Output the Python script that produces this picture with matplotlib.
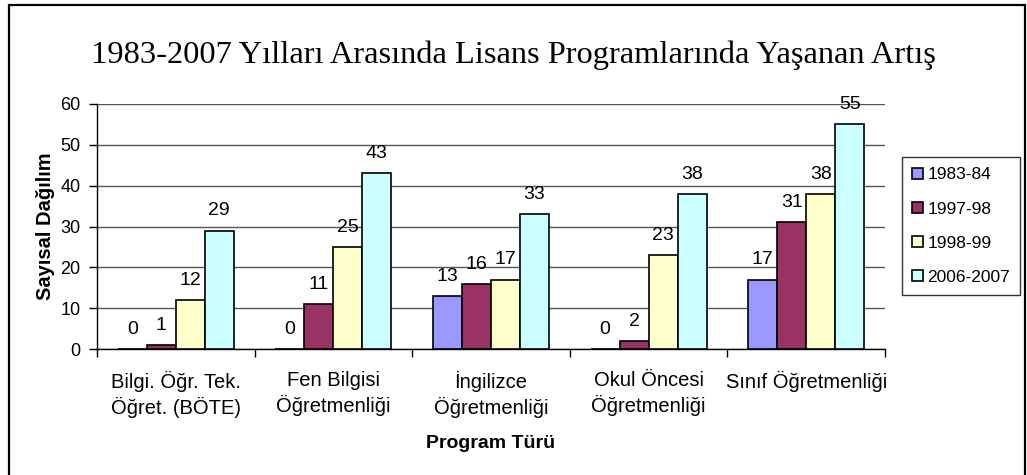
import matplotlib
import matplotlib.pyplot as plt
import numpy as np
from matplotlib.patches import Rectangle

matplotlib.use('Agg')

plt.rcParams['font.family'] = ['Liberation Sans', 'DejaVu Sans']

# program categories and yearly counts
programs = ["Bilgi. Öğr. Tek.\nÖğret. (BÖTE)", "Fen Bilgisi\nÖğretmenliği", "İngilizce\nÖğretmenliği",
            "Okul Öncesi\nÖğretmenliği", "Sınıf Öğretmenliği"]
periods = ["1983-84", "1997-98", "1998-99", "2006-2007"]
v_1983 = [0, 0, 13, 0, 17]
v_1997 = [1, 11, 16, 2, 31]
v_1998 = [12, 25, 17, 23, 38]
v_2006 = [29, 43, 33, 38, 55]
series = [v_1983, v_1997, v_1998, v_2006]
colors = ["#9999FF", "#993366", "#FFFFCC", "#CCFFFF"]

W, H = 1027, 475
fig = plt.figure(figsize=(W / 100, H / 100), dpi=100)
ax = fig.add_axes([97 / W, (H - 349) / H, (885 - 97) / W, (349 - 104) / H])

x = np.arange(len(programs))
bw = 0.184
for i, (vals, col, lab) in enumerate(zip(series, colors, periods)):
    pos = x + (i - 1.5) * bw
    ax.bar(pos, vals, width=bw, color=col, edgecolor='black', linewidth=1.2, label=lab, zorder=3)
    for px, v in zip(pos, vals):
        ax.annotate(str(v), (px, v), xytext=(0, 8), textcoords='offset points',
                    ha='center', va='bottom', fontsize=14)

ax.set_xlim(-0.5, len(programs) - 0.5)
ax.set_ylim(0, 60)
ax.set_yticks(range(0, 61, 10))
ax.yaxis.grid(True, color='#555555', linewidth=1, zorder=0)
ax.set_axisbelow(True)

ax.set_xticks(x)
ax.set_xticklabels(programs, fontsize=14.5, linespacing=1.3)
ax.set_xticks(np.arange(-0.5, len(programs), 1), minor=True)
ax.tick_params(axis='x', which='major', length=0, pad=16)
ax.tick_params(axis='x', which='minor', length=6, width=1, color='black')
ax.tick_params(axis='y', length=6, width=1, pad=6, labelsize=13)

for s in ['top', 'right']:
    ax.spines[s].set_visible(False)
for s in ['left', 'bottom']:
    ax.spines[s].set_color('black')
    ax.spines[s].set_linewidth(1)

ax.set_xlabel("Program Türü", fontsize=14, fontweight='bold', labelpad=12)
ax.set_ylabel("Sayısal Dağılım", fontsize=14.5, fontweight='bold', labelpad=4)

fig.text(0.5, 1 - 55 / H, "1983-2007 Yılları Arasında Lisans Programlarında Yaşanan Artış",
         ha='center', va='center', fontsize=23.4, family=['Liberation Serif', 'DejaVu Serif'])

leg = fig.legend(loc='upper left', bbox_to_anchor=(902 / W, (H - 157) / H), fontsize=12.5,
                 frameon=True, fancybox=False, handlelength=0.6, handleheight=0.6,
                 handletextpad=0.25, labelspacing=1.1, borderpad=0.6, borderaxespad=0)
leg.get_frame().set_edgecolor('black')
leg.get_frame().set_linewidth(1)

# outer chart border
fig.patches.append(Rectangle((9 / W, -0.05), (1025 - 9) / W, 1.05 - 5 / H, transform=fig.transFigure,
                             fill=False, edgecolor='black', linewidth=1.6))

plt.savefig("out.png", dpi=100)
plt.close()
